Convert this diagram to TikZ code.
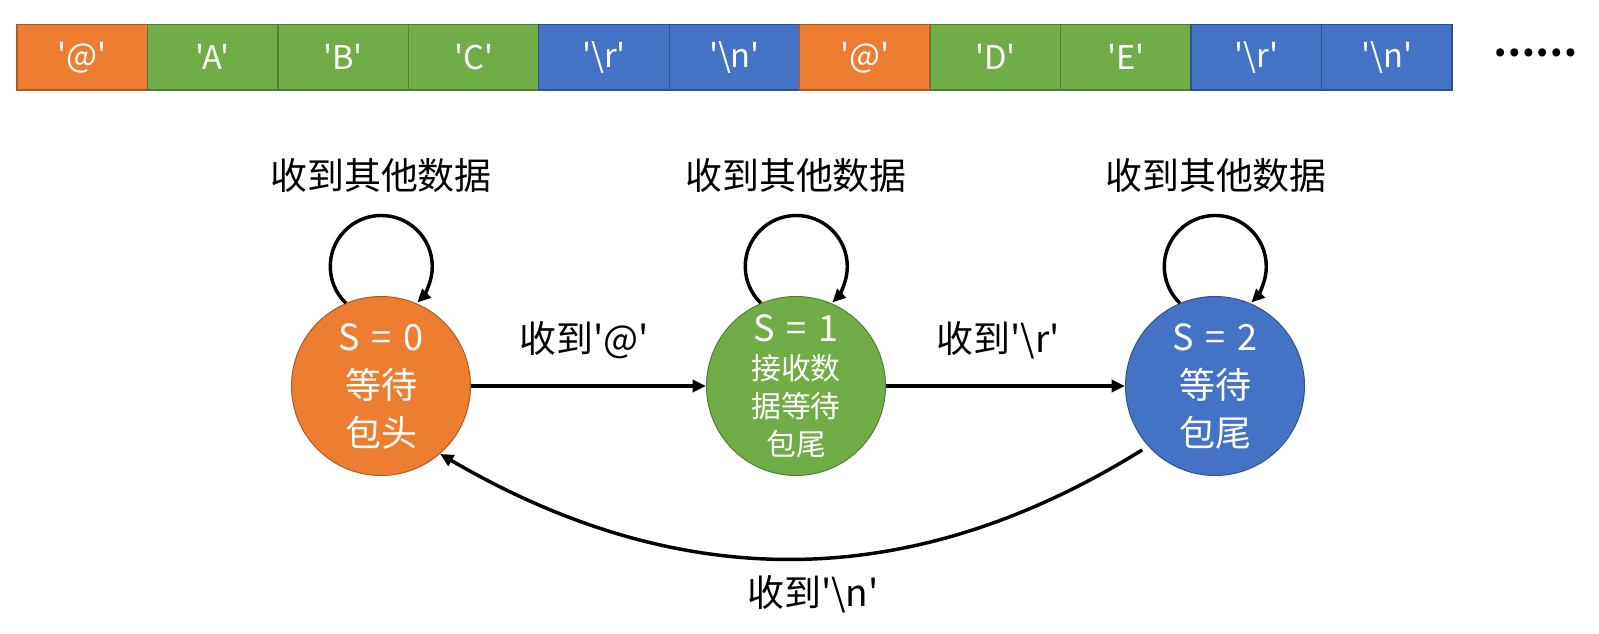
\documentclass[tikz,border=0pt]{standalone}
\usepackage{fontspec}
\newfontfamily\yh{Noto Sans CJK SC}
\usetikzlibrary{arrows.meta}
\definecolor{orF}{HTML}{ED7D31}\definecolor{orD}{HTML}{AE5A21}
\definecolor{grF}{HTML}{70AD47}\definecolor{grD}{HTML}{507E32}
\definecolor{blF}{HTML}{4472C4}\definecolor{blD}{HTML}{2F528F}
\newcommand\wsp{\hspace{0.32em}}
\begin{document}
\begin{tikzpicture}[x=0.75pt,y=-0.75pt,
  cell/.style={rectangle, minimum width=97.84pt, minimum height=49.1pt, inner sep=0pt,
    line width=1pt, text=white, font=\yh\fontsize{24.5pt}{28pt}\selectfont},
  ocell/.style={cell, fill=orF, draw=orD},
  gcell/.style={cell, fill=grF, draw=grD},
  bcell/.style={cell, fill=blF, draw=blD},
  state/.style={circle, minimum size=134.25pt, inner sep=0pt, line width=0.75pt,
    text=white, align=center, font=\yh\fontsize{27pt}{36pt}\selectfont},
  lbl/.style={inner sep=0pt, font=\yh\fontsize{27.7pt}{33pt}\selectfont},
  arr/.style={line width=2.6pt, -{Triangle[length=10pt,width=9pt]}},
]
\fill[white] (0,0) rectangle (1599,634);
\useasboundingbox (0,0) rectangle (1599,634);

% top data stream
\node[ocell] (c1)  at (82.2,57.25)   {'@'};
\node[gcell] (c2)  at (212.7,57.25)  {'A'};
\node[gcell] (c3)  at (343.1,57.25)  {'B'};
\node[gcell] (c4)  at (473.6,57.25)  {'C'};
\node[bcell] (c5)  at (604.0,57.25)  {'\textbackslash r'};
\node[bcell] (c6)  at (734.5,57.25)  {'\textbackslash n'};
\node[ocell] (c7)  at (864.9,57.25)  {'@'};
\node[gcell] (c8)  at (995.4,57.25)  {'D'};
\node[gcell] (c9)  at (1125.8,57.25) {'E'};
\node[bcell] (c10) at (1256.3,57.25) {'\textbackslash r'};
\node[bcell] (c11) at (1386.7,57.25) {'\textbackslash n'};
\node[lbl, font=\yh\bfseries\fontsize{28pt}{33pt}\selectfont] (dots) at (1535,53) {……};

% states
\node[state, fill=orF, draw=orD] (s0) at (381,386) {S\wsp=\wsp0\\等待\\包头};
\node[state, fill=grF, draw=grD, font=\yh\fontsize{22.4pt}{28.5pt}\selectfont] (s1) at (796,386)
  {{\fontsize{27pt}{28.5pt}\selectfont S\wsp=\wsp1}\\接收数\\据等待\\包尾};
\node[state, fill=blF, draw=blD] (s2) at (1215,386) {S\wsp=\wsp2\\等待\\包尾};

% self-loop labels
\node[lbl] (l0) at (381,175.5) {收到其他数据};
\node[lbl] (l1) at (796,175.5) {收到其他数据};
\node[lbl] (l2) at (1216,175.5) {收到其他数据};

% self loops
\draw[arr] (s0.113) arc[start angle=134, end angle=405, radius=51];
\draw[arr] (s1.113) arc[start angle=134, end angle=405, radius=51];
\draw[arr] (s2.113) arc[start angle=134, end angle=405, radius=51];

% transitions
\draw[arr] (s0) -- (s1);
\node[lbl] (la) at (584,340) {收到'@'};
\draw[arr] (s1) -- (s2);
\node[lbl] (lb) at (998,340) {收到'\textbackslash r'};
\draw[arr, shorten <=5.25pt] (s2.222) .. controls (909,595) and (679,593.5) .. (s0.-49);
\node[lbl] (lc) at (813,594.5) {收到'\textbackslash n'};
\end{tikzpicture}
\end{document}
